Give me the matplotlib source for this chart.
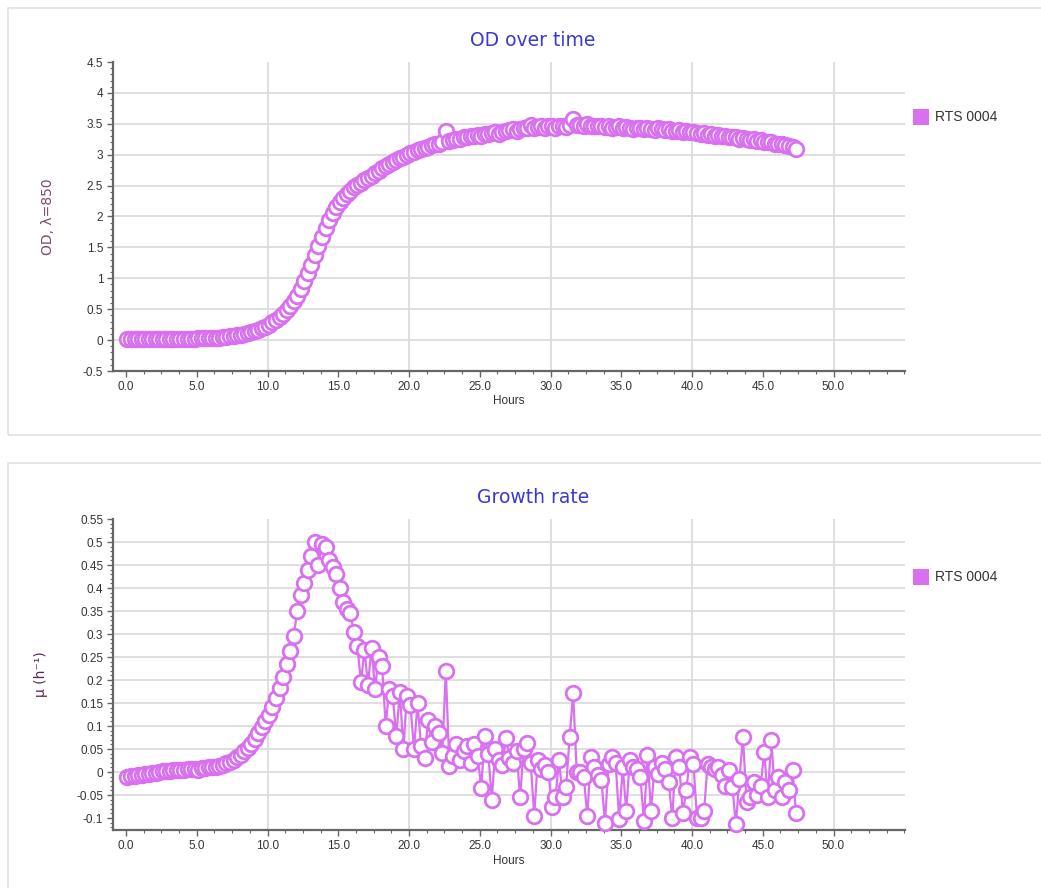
import matplotlib
matplotlib.use("Agg")
import matplotlib.pyplot as plt
from matplotlib.patches import Rectangle
from matplotlib.ticker import MultipleLocator

# sampling times (h), same for both series
hours = [
    0.1, 0.35, 0.6, 0.85, 1.1, 1.35, 1.6, 1.85,
    2.1, 2.35, 2.6, 2.85, 3.1, 3.35, 3.6, 3.85,
    4.1, 4.35, 4.6, 4.85, 5.1, 5.35, 5.6, 5.85,
    6.1, 6.35, 6.6, 6.85, 7.1, 7.35, 7.6, 7.85,
    8.1, 8.35, 8.6, 8.85, 9.1, 9.35, 9.6, 9.85,
    10.1, 10.35, 10.6, 10.85, 11.1, 11.35, 11.6, 11.85,
    12.1, 12.35, 12.6, 12.85, 13.1, 13.35, 13.6, 13.85,
    14.1, 14.35, 14.6, 14.85, 15.1, 15.35, 15.6, 15.85,
    16.1, 16.35, 16.6, 16.85, 17.1, 17.35, 17.6, 17.85,
    18.1, 18.35, 18.6, 18.85, 19.1, 19.35, 19.6, 19.85,
    20.1, 20.35, 20.6, 20.85, 21.1, 21.35, 21.6, 21.85,
    22.1, 22.35, 22.6, 22.85, 23.1, 23.35, 23.6, 23.85,
    24.1, 24.35, 24.6, 24.85, 25.1, 25.35, 25.6, 25.85,
    26.1, 26.35, 26.6, 26.85, 27.1, 27.35, 27.6, 27.85,
    28.1, 28.35, 28.6, 28.85, 29.1, 29.35, 29.6, 29.85,
    30.1, 30.35, 30.6, 30.85, 31.1, 31.35, 31.6, 31.85,
    32.1, 32.35, 32.6, 32.85, 33.1, 33.35, 33.6, 33.85,
    34.1, 34.35, 34.6, 34.85, 35.1, 35.35, 35.6, 35.85,
    36.1, 36.35, 36.6, 36.85, 37.1, 37.35, 37.6, 37.85,
    38.1, 38.35, 38.6, 38.85, 39.1, 39.35, 39.6, 39.85,
    40.1, 40.35, 40.6, 40.85, 41.1, 41.35, 41.6, 41.85,
    42.1, 42.35, 42.6, 42.85, 43.1, 43.35, 43.6, 43.85,
    44.1, 44.35, 44.6, 44.85, 45.1, 45.35, 45.6, 45.85,
    46.1, 46.35, 46.6, 46.85, 47.1, 47.35,
]

# OD at 850 nm
od = [
    0.02, 0.02, 0.02, 0.02, 0.02, 0.02, 0.02, 0.02,
    0.02, 0.02, 0.02, 0.02, 0.02, 0.02, 0.02, 0.02,
    0.02, 0.02, 0.02, 0.02, 0.03, 0.03, 0.03, 0.03,
    0.04, 0.04, 0.04, 0.05, 0.05, 0.06, 0.07, 0.08,
    0.09, 0.10, 0.11, 0.13, 0.15, 0.17, 0.19, 0.22,
    0.25, 0.29, 0.33, 0.37, 0.42, 0.48, 0.55, 0.63,
    0.72, 0.83, 0.95, 1.08, 1.22, 1.37, 1.52, 1.67,
    1.82, 1.95, 2.06, 2.15, 2.23, 2.30, 2.36, 2.42,
    2.47, 2.51, 2.55, 2.59, 2.62, 2.66, 2.70, 2.74,
    2.78, 2.81, 2.85, 2.88, 2.91, 2.94, 2.97, 2.99,
    3.02, 3.04, 3.07, 3.09, 3.11, 3.13, 3.15, 3.17,
    3.18, 3.20, 3.38, 3.22, 3.24, 3.25, 3.26, 3.28,
    3.29, 3.30, 3.31, 3.32, 3.30, 3.33, 3.34, 3.35,
    3.36, 3.33, 3.37, 3.38, 3.40, 3.41, 3.39, 3.42,
    3.43, 3.44, 3.48, 3.43, 3.45, 3.46, 3.44, 3.46,
    3.47, 3.44, 3.46, 3.47, 3.45, 3.48, 3.57, 3.48,
    3.48, 3.47, 3.49, 3.46, 3.47, 3.46, 3.47, 3.45,
    3.46, 3.44, 3.45, 3.46, 3.43, 3.45, 3.44, 3.42,
    3.44, 3.43, 3.41, 3.44, 3.42, 3.40, 3.43, 3.41,
    3.40, 3.41, 3.38, 3.39, 3.40, 3.37, 3.38, 3.36,
    3.36, 3.35, 3.33, 3.35, 3.32, 3.33, 3.31, 3.32,
    3.30, 3.31, 3.29, 3.28, 3.29, 3.26, 3.27, 3.25,
    3.24, 3.25, 3.22, 3.23, 3.21, 3.20, 3.21, 3.18,
    3.17, 3.18, 3.15, 3.14, 3.13, 3.10,
]

# specific growth rate (1/h)
mu = [
    -0.010, -0.009, -0.008, -0.007, -0.006, -0.005, -0.004, -0.003,
    -0.002, 0.001, 0.002, 0.003, 0.003, 0.004, 0.004, 0.005,
    0.005, 0.006, 0.006, 0.007, 0.004, 0.008, 0.009, 0.010,
    0.011, 0.012, 0.014, 0.016, 0.019, 0.022, 0.027, 0.032,
    0.038, 0.045, 0.053, 0.062, 0.072, 0.084, 0.097, 0.110,
    0.125, 0.141, 0.160, 0.182, 0.207, 0.235, 0.262, 0.295,
    0.350, 0.385, 0.410, 0.440, 0.470, 0.500, 0.450, 0.495,
    0.490, 0.460, 0.445, 0.430, 0.400, 0.370, 0.355, 0.345,
    0.305, 0.275, 0.195, 0.265, 0.190, 0.270, 0.180, 0.250,
    0.230, 0.100, 0.180, 0.165, 0.078, 0.175, 0.050, 0.165,
    0.145, 0.050, 0.150, 0.056, 0.030, 0.114, 0.065, 0.100,
    0.085, 0.042, 0.220, 0.013, 0.035, 0.060, 0.027, 0.045,
    0.056, 0.020, 0.060, 0.035, -0.034, 0.078, 0.040, -0.060,
    0.050, 0.027, 0.015, 0.074, 0.030, 0.020, 0.045, -0.055,
    0.050, 0.063, 0.020, -0.095, 0.027, 0.006, 0.015, 0.000,
    -0.077, -0.055, 0.026, -0.055, -0.033, 0.077, 0.172, 0.000,
    0.000, -0.011, -0.096, 0.033, 0.010, -0.007, -0.018, -0.110,
    0.018, 0.033, 0.020, -0.103, 0.011, -0.085, 0.026, 0.010,
    0.007, -0.011, -0.107, 0.037, -0.085, 0.011, -0.004, 0.020,
    0.007, -0.022, -0.100, 0.033, 0.011, -0.088, -0.040, 0.033,
    0.018, -0.100, -0.100, -0.085, 0.018, 0.011, 0.007, 0.012,
    -0.007, -0.030, 0.004, -0.033, -0.113, -0.015, 0.077, -0.066,
    -0.055, -0.022, -0.051, -0.030, 0.044, -0.055, 0.070, -0.040,
    -0.011, -0.055, -0.022, -0.040, 0.004, -0.090,
]

x_ticks = [0, 5, 10, 15, 20, 25, 30, 35, 40, 45, 50]
x_grid = [10, 20, 30, 40, 50]
od_ticks = [-0.5, 0, 0.5, 1, 1.5, 2, 2.5, 3, 3.5, 4, 4.5]
mu_ticks = [-0.1, -0.05, 0, 0.05, 0.1, 0.15, 0.2, 0.25, 0.3, 0.35, 0.4,
            0.45, 0.5, 0.55]
series_name = "RTS 0004"

MARK = "#d870f0"
TITLE_C = "#3a3ad0"
GRID_C = "#dcdcdc"
AXIS_C = "#666666"
TEXT_C = "#333333"

W, H = 1041, 888
fig = plt.figure(figsize=(W / 100, H / 100), dpi=100)
fig.patch.set_facecolor("white")

# panel frames
for y0, y1 in [(8, 435), (463, 900)]:
    fig.patches.append(Rectangle((8 / W, 1 - y1 / H), (W + 20) / W, (y1 - y0) / H,
                                 transform=fig.transFigure, fill=False,
                                 edgecolor="#e2e2e2", linewidth=1.2))


def setup_axes(ax, yticks, ylim, ylabel, ylabel_color, minor_y):
    ax.set_xlim(-0.92, 55.05)
    ax.set_ylim(*ylim)
    for side in ["top", "right"]:
        ax.spines[side].set_visible(False)
    for side in ["left", "bottom"]:
        ax.spines[side].set_color(AXIS_C)
        ax.spines[side].set_linewidth(1.6)
    ax.set_xticks(x_ticks)
    ax.set_xticklabels([f"{t:.1f}" for t in x_ticks], fontsize=8.5,
                       color=TEXT_C, family="Liberation Sans")
    ax.set_yticks(yticks)
    ax.set_yticklabels([f"{t:g}" for t in yticks], fontsize=8.5,
                       color=TEXT_C, family="Liberation Sans")
    ax.xaxis.set_minor_locator(MultipleLocator(1.25))
    ax.yaxis.set_minor_locator(MultipleLocator(minor_y))
    ax.tick_params(which="major", length=4, width=1, color=AXIS_C, pad=3)
    ax.tick_params(which="minor", length=2.5, width=0.8, color=AXIS_C)
    # grid drawn by hand so the top tick gets no line
    for yv in yticks[1:-1]:
        ax.axhline(yv, color=GRID_C, linewidth=1.3, zorder=0)
    for xv in x_grid:
        ax.axvline(xv, color=GRID_C, linewidth=1.3, zorder=0)
    ax.set_xlabel("Hours", fontsize=8.5, color=TEXT_C,
                  family="Liberation Sans", labelpad=2)
    ax.set_ylabel(ylabel, fontsize=10, color=ylabel_color, labelpad=20)


# OD over time
ax1 = fig.add_axes([113 / W, 1 - 371 / H, 792 / W, 309 / H])
setup_axes(ax1, od_ticks, (-0.5, 4.5), "OD, λ=850", "#7a4a70", 0.1)
ax1.plot(hours, od, linestyle="none", marker="o", markersize=10.5,
         markerfacecolor="white", markeredgecolor=MARK, markeredgewidth=2,
         zorder=3, clip_on=False)
fig.text(533 / W, 1 - 40 / H, "OD over time", ha="center", va="center",
         fontsize=13.5, color=TITLE_C)

# Growth rate
ax2 = fig.add_axes([113 / W, 1 - 830 / H, 792 / W, 311 / H])
setup_axes(ax2, mu_ticks, (-0.126, 0.55), "μ (h⁻¹)", "#5a2850", 0.01)
ax2.plot(hours, mu, color=MARK, linewidth=1.6, marker="o", markersize=10.5,
         markerfacecolor="white", markeredgecolor=MARK, markeredgewidth=2,
         zorder=3, clip_on=False)
fig.text(533 / W, 1 - 497 / H, "Growth rate", ha="center", va="center",
         fontsize=13.5, color=TITLE_C)

# legends
for ly in [117, 577]:
    fig.patches.append(Rectangle((913 / W, 1 - (ly + 8) / H), 16 / W, 16 / H,
                                 transform=fig.transFigure, facecolor=MARK,
                                 edgecolor="none"))
    fig.text(935 / W, 1 - ly / H, series_name, ha="left", va="center",
             fontsize=10, color=TEXT_C, family="Liberation Sans")

fig.savefig("out.png", dpi=100)
